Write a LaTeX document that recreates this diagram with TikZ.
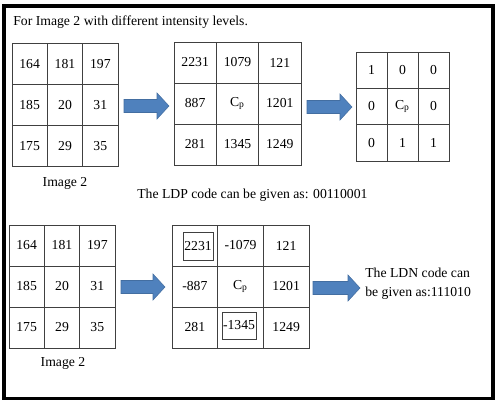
\documentclass[tikz,border=0pt]{standalone}
\usepackage{fontspec}
\setmainfont{Liberation Serif}
\definecolor{arrowblue}{RGB}{79,129,189}
\tikzset{
	txt/.style={inner sep=0pt, font=\fontsize{7.8}{10.8}\selectfont},
	cell/.style={draw=black!75, line width=0.5pt, inner sep=0pt, font=\fontsize{7.8}{9.4}\selectfont},
	imgcell/.style={cell, minimum width=0.707cm, minimum height=0.82cm},
	difcell/.style={cell, minimum width=0.847cm, minimum height=0.82cm},
	bitcell/.style={cell, minimum width=0.62cm, minimum height=0.727cm},
	ldncell/.style={cell, minimum width=0.913cm, minimum height=0.82cm},
	markbox/.style={draw=black!75, line width=0.5pt, inner sep=0pt, font=\fontsize{7.8}{9.4}\selectfont},
	blockarrow/.style={fill=arrowblue, draw=arrowblue!85!black, line width=0.3pt}
}
\begin{document}
\begin{tikzpicture}[x=0.02cm, y=-0.02cm]
		\useasboundingbox (0,0) rectangle (500,406);
		\fill[white] (0,0) rectangle (500,406);
		\draw[line width=0.07cm] (4.2,6) rectangle (492.8,398.7);

		\node[txt, anchor=west] (title) at (13,22) {For Image 2 with different intensity levels.};

		% Image 2, upper row
		\node[imgcell] (img11) at (29.67,63.67) {164};
		\node[imgcell] (img12) at (65,63.67) {181};
		\node[imgcell] (img13) at (100.33,63.67) {197};
		\node[imgcell] (img21) at (29.67,104.67) {185};
		\node[imgcell] (img22) at (65,104.67) {20};
		\node[imgcell] (img23) at (100.33,104.67) {31};
		\node[imgcell] (img31) at (29.67,145.67) {175};
		\node[imgcell] (img32) at (65,145.67) {29};
		\node[imgcell] (img33) at (100.33,145.67) {35};
		\node[txt] (imgname) at (65,183) {Image 2};

		\coordinate (arr1) at (124,106);
		\draw[blockarrow] (arr1) ++(0,-6.5) -- ++(33,0) -- ++(0,-6.5) -- ++(12,13) -- ++(-12,13) -- ++(0,-6.5) -- ++(-33,0) -- cycle;

		\node[difcell] (dif11) at (195.17,62.5) {2231};
		\node[difcell] (dif12) at (237.5,62.5) {1079};
		\node[difcell] (dif13) at (279.83,62.5) {121};
		\node[difcell] (dif21) at (195.17,103.5) {887};
		\node[difcell] (dif22) at (237.5,103.5) {C\textsubscript{p}};
		\node[difcell] (dif23) at (279.83,103.5) {1201};
		\node[difcell] (dif31) at (195.17,144.5) {281};
		\node[difcell] (dif32) at (237.5,144.5) {1345};
		\node[difcell] (dif33) at (279.83,144.5) {1249};

		\coordinate (arr2) at (307,107);
		\draw[blockarrow] (arr2) ++(0,-6.5) -- ++(33,0) -- ++(0,-6.5) -- ++(12,13) -- ++(-12,13) -- ++(0,-6.5) -- ++(-33,0) -- cycle;

		\node[bitcell] (ldp11) at (371.5,70.17) {1};
		\node[bitcell] (ldp12) at (402.5,70.17) {0};
		\node[bitcell] (ldp13) at (433.5,70.17) {0};
		\node[bitcell] (ldp21) at (371.5,106.5) {0};
		\node[bitcell] (ldp22) at (402.5,106.5) {C\textsubscript{p}};
		\node[bitcell] (ldp23) at (433.5,106.5) {0};
		\node[bitcell] (ldp31) at (371.5,142.83) {0};
		\node[bitcell] (ldp32) at (402.5,142.83) {1};
		\node[bitcell] (ldp33) at (433.5,142.83) {1};

		\node[txt, anchor=west] (ldpcode) at (137,195) {The LDP code can be given as: 00110001};

		% Image 2, lower row
		\node[imgcell] (imb11) at (26.67,245.5) {164};
		\node[imgcell] (imb12) at (62,245.5) {181};
		\node[imgcell] (imb13) at (97.33,245.5) {197};
		\node[imgcell] (imb21) at (26.67,286.5) {185};
		\node[imgcell] (imb22) at (62,286.5) {20};
		\node[imgcell] (imb23) at (97.33,286.5) {31};
		\node[imgcell] (imb31) at (26.67,327.5) {175};
		\node[imgcell] (imb32) at (62,327.5) {29};
		\node[imgcell] (imb33) at (97.33,327.5) {35};
		\node[txt] (imbname) at (63,363) {Image 2};

		\coordinate (arr3) at (121,287);
		\draw[blockarrow] (arr3) ++(0,-6.5) -- ++(32,0) -- ++(0,-6.5) -- ++(12,13) -- ++(-12,13) -- ++(0,-6.5) -- ++(-32,0) -- cycle;

		\node[ldncell] (ldn11) at (194.83,245.5) {};
		\node[markbox, minimum width=0.6cm, minimum height=0.56cm] (max) at (198,246) {2231};
		\node[ldncell] (ldn12) at (240.5,245.5) {-1079};
		\node[ldncell] (ldn13) at (286.17,245.5) {121};
		\node[ldncell] (ldn21) at (194.83,286.5) {-887};
		\node[ldncell] (ldn22) at (240.5,286.5) {C\textsubscript{p}};
		\node[ldncell] (ldn23) at (286.17,286.5) {1201};
		\node[ldncell] (ldn31) at (194.83,327.5) {281};
		\node[ldncell] (ldn32) at (240.5,327.5) {};
		\node[markbox, minimum width=0.68cm, minimum height=0.54cm] (min) at (239,325.5) {-1345};
		\node[ldncell] (ldn33) at (286.17,327.5) {1249};

		\coordinate (arr4) at (313,288);
		\draw[blockarrow] (arr4) ++(0,-6.5) -- ++(35,0) -- ++(0,-6.5) -- ++(12,13) -- ++(-12,13) -- ++(0,-6.5) -- ++(-35,0) -- cycle;

		\node[txt, anchor=west, align=left] (ldncode) at (365,284) {The LDN code can\\be given as:111010};
	\end{tikzpicture}
\end{document}
